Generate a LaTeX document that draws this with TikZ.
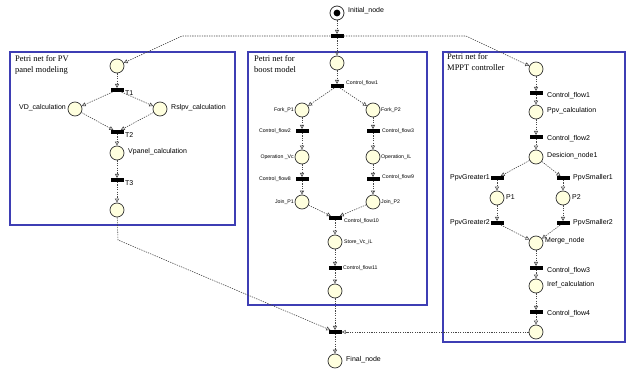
\documentclass[tikz,border=0pt]{standalone}
\usepackage{fontspec}
\setmainfont{Liberation Serif}
\newfontfamily\lblfont{Liberation Sans}
\usetikzlibrary{arrows.meta}
\definecolor{boxblue}{RGB}{62,62,180}
\definecolor{placefill}{RGB}{255,255,222}
\definecolor{linegray}{RGB}{70,70,70}
\begin{document}
\begin{tikzpicture}[x=1pt,y=-1pt,
 place/.style={circle,draw=gray!40!black,fill=placefill,minimum size=14pt,inner sep=0pt,line width=0.7pt},
 initnode/.style={circle,draw=gray!40!black,fill=white,minimum size=14pt,inner sep=0pt,line width=0.8pt},
 trans/.style={rectangle,fill=black,minimum width=13pt,minimum height=3.6pt,inner sep=0pt},
 flow/.style={draw=linegray,line width=0.6pt,dash pattern=on 1.3pt off 1.1pt,-{Triangle[open,length=4pt,width=4pt]}},
 lbl/.style={font=\lblfont\fontsize{7}{8}\selectfont,inner sep=0pt},
 slbl/.style={font=\lblfont\fontsize{5.2}{6}\selectfont,inner sep=0pt},
 netbox/.style={draw=boxblue,line width=1.4pt},
 title/.style={font=\fontsize{8.5}{11}\selectfont,align=left,inner sep=0pt,anchor=north west}]
\useasboundingbox (0,0) rectangle (627,374);

% boxes
\draw[netbox] (10,52) rectangle (235,225);
\draw[netbox] (248,52) rectangle (427,305);
\draw[netbox] (443,52) rectangle (625,342);
\node[title] (tpv) at (15,55) {Petri net for PV\\panel modeling};
\node[title] (tbo) at (254,55) {Petri net for\\boost model};
\node[title] (tmp) at (447,53) {Petri net for\\MPPT controller};

% initial
\node[initnode] (init) at (337,13) {};
\fill[black] (init.center) circle (3.4pt);
\node[lbl,anchor=west] (linit) at (348,11) {Initial\_node};
\node[trans] (tb) at (337,36) {};
\coordinate (cl) at (182,36);
\coordinate (cr) at (466,36);

% PV net
\node[place] (pv0) at (117,66) {};
\node[trans] (t1) at (117,90) {};
\node[place] (vd) at (75,109) {};
\node[place] (rs) at (160,109) {};
\node[trans] (t2) at (117,132) {};
\node[place] (vp) at (117,153) {};
\node[trans] (t3) at (117,180) {};
\node[place] (pv4) at (117,210) {};
\coordinate (cpv) at (118,240);
\node[lbl,anchor=west] (lt1) at (125,93) {T1};
\node[lbl,anchor=west] (lt2) at (125,135) {T2};
\node[lbl,anchor=west] (lt3) at (125,183) {T3};
\node[lbl,anchor=east] (lvd) at (66,108) {VD\_calculation};
\node[lbl,anchor=west] (lrs) at (171,108) {Rslpv\_calculation};
\node[lbl,anchor=west] (lvp) at (128,152) {Vpanel\_calculation};

% boost net
\node[place] (b0) at (337,63) {};
\node[trans] (bc1) at (337,86) {};
\node[place] (fp1) at (302,110) {};
\node[place] (fp2) at (373,110) {};
\node[trans] (bc2) at (302,131) {};
\node[trans] (bc3) at (373,131) {};
\node[place] (ovc) at (302,157) {};
\node[place] (oil) at (373,157) {};
\node[trans] (bc8) at (302,179) {};
\node[trans] (bc9) at (373,179) {};
\node[place] (jp1) at (302,202) {};
\node[place] (jp2) at (373,202) {};
\node[trans] (bc10) at (335,218) {};
\node[place] (st) at (335,242) {};
\node[trans] (bc11) at (335,268) {};
\node[place] (b9) at (335,291) {};
\node[slbl,anchor=west] (lbc1) at (346,83) {Control\_flow1};
\node[slbl,anchor=east] (lfp1) at (294,110) {Fork\_P1};
\node[slbl,anchor=west] (lfp2) at (381,110) {Fork\_P2};
\node[slbl,anchor=east] (lbc2) at (291,131) {Control\_flow2};
\node[slbl,anchor=west] (lbc3) at (382,131) {Control\_flow3};
\node[slbl,anchor=east] (lovc) at (294,157) {Operation \_Vc};
\node[slbl,anchor=west] (loil) at (381,157) {Operation\_IL};
\node[slbl,anchor=east] (lbc8) at (291,179) {Control\_flow8};
\node[slbl,anchor=west] (lbc9) at (382,177) {Control\_flow9};
\node[slbl,anchor=east] (ljp1) at (294,202) {Join\_P1};
\node[slbl,anchor=west] (ljp2) at (381,202) {Join\_P2};
\node[slbl,anchor=west] (lbc10) at (344,221) {Control\_flow10};
\node[slbl,anchor=west] (lst) at (344,242) {Store\_Vc\_iL};
\node[slbl,anchor=west] (lbc11) at (343,268) {Control\_flow11};

% MPPT net
\node[place] (m0) at (536,69) {};
\node[trans] (mc1) at (536,93) {};
\node[place] (ppv) at (536,112) {};
\node[trans] (mc2) at (536,137) {};
\node[place] (dec) at (536,157) {};
\node[trans] (pg1) at (497,178) {};
\node[trans] (ps1) at (563,178) {};
\node[place] (p1) at (497,198) {};
\node[place] (p2) at (563,198) {};
\node[trans] (pg2) at (497,223) {};
\node[trans] (ps2) at (563,223) {};
\node[place] (mg) at (536,243) {};
\node[trans] (mc3) at (536,268) {};
\node[place] (iref) at (536,286) {};
\node[trans] (mc4) at (536,312) {};
\node[place] (m9) at (536,332) {};
\node[lbl,anchor=west] (lmc1) at (547,96) {Control\_flow1};
\node[lbl,anchor=west] (lppv) at (547,111) {Ppv\_calculation};
\node[lbl,anchor=west] (lmc2) at (547,139) {Control\_flow2};
\node[lbl,anchor=west] (ldec) at (547,156) {Desicion\_node1};
\node[lbl,anchor=east] (lpg1) at (490,178) {PpvGreater1};
\node[lbl,anchor=west] (lps1) at (573,178) {PpvSmaller1};
\node[lbl,anchor=west] (lp1) at (506,197) {P1};
\node[lbl,anchor=west] (lp2) at (572,197) {P2};
\node[lbl,anchor=east] (lpg2) at (490,223) {PpvGreater2};
\node[lbl,anchor=west] (lps2) at (573,223) {PpvSmaller2};
\node[lbl,anchor=west] (lmg) at (545,241) {Merge\_node};
\node[lbl,anchor=west] (lmc3) at (547,271) {Control\_flow3};
\node[lbl,anchor=west] (liref) at (547,285) {Iref\_calculation};
\node[lbl,anchor=west] (lmc4) at (547,314) {Control\_flow4};

% final
\node[trans] (fb) at (335,332) {};
\node[place] (fin) at (335,361) {};
\node[lbl,anchor=west] (lfin) at (346,360) {Final\_node};

% connectors: top
\draw[flow] (init) -- (tb);
\draw[flow] (tb) -- (cl) -- (pv0);
\draw[flow] (tb) -- (b0);
\draw[flow] (tb) -- (cr) -- (m0);

% PV
\draw[flow] (pv0) -- (t1);
\draw[flow] (t1) -- (vd);
\draw[flow] (t1) -- (rs);
\draw[flow] (vd) -- (t2);
\draw[flow] (rs) -- (t2);
\draw[flow] (t2) -- (vp);
\draw[flow] (vp) -- (t3);
\draw[flow] (t3) -- (pv4);
\draw[flow] (pv4) -- (cpv) -- (fb);

% boost
\draw[flow] (b0) -- (bc1);
\draw[flow] (bc1) -- (fp1);
\draw[flow] (bc1) -- (fp2);
\draw[flow] (fp1) -- (bc2);
\draw[flow] (fp2) -- (bc3);
\draw[flow] (bc2) -- (ovc);
\draw[flow] (bc3) -- (oil);
\draw[flow] (ovc) -- (bc8);
\draw[flow] (oil) -- (bc9);
\draw[flow] (bc8) -- (jp1);
\draw[flow] (bc9) -- (jp2);
\draw[flow] (jp1) -- (bc10);
\draw[flow] (jp2) -- (bc10);
\draw[flow] (bc10) -- (st);
\draw[flow] (st) -- (bc11);
\draw[flow] (bc11) -- (b9);
\draw[flow] (b9) -- (fb);

% MPPT
\draw[flow] (m0) -- (mc1);
\draw[flow] (mc1) -- (ppv);
\draw[flow] (ppv) -- (mc2);
\draw[flow] (mc2) -- (dec);
\draw[flow] (dec) -- (pg1);
\draw[flow] (dec) -- (ps1);
\draw[flow] (pg1) -- (p1);
\draw[flow] (ps1) -- (p2);
\draw[flow] (p1) -- (pg2);
\draw[flow] (p2) -- (ps2);
\draw[flow] (pg2) -- (mg);
\draw[flow] (ps2) -- (mg);
\draw[flow] (mg) -- (mc3);
\draw[flow] (mc3) -- (iref);
\draw[flow] (iref) -- (mc4);
\draw[flow] (mc4) -- (m9);
\draw[flow] (m9) -- (fb);

% final
\draw[flow] (fb) -- (fin);
\end{tikzpicture}
\end{document}
